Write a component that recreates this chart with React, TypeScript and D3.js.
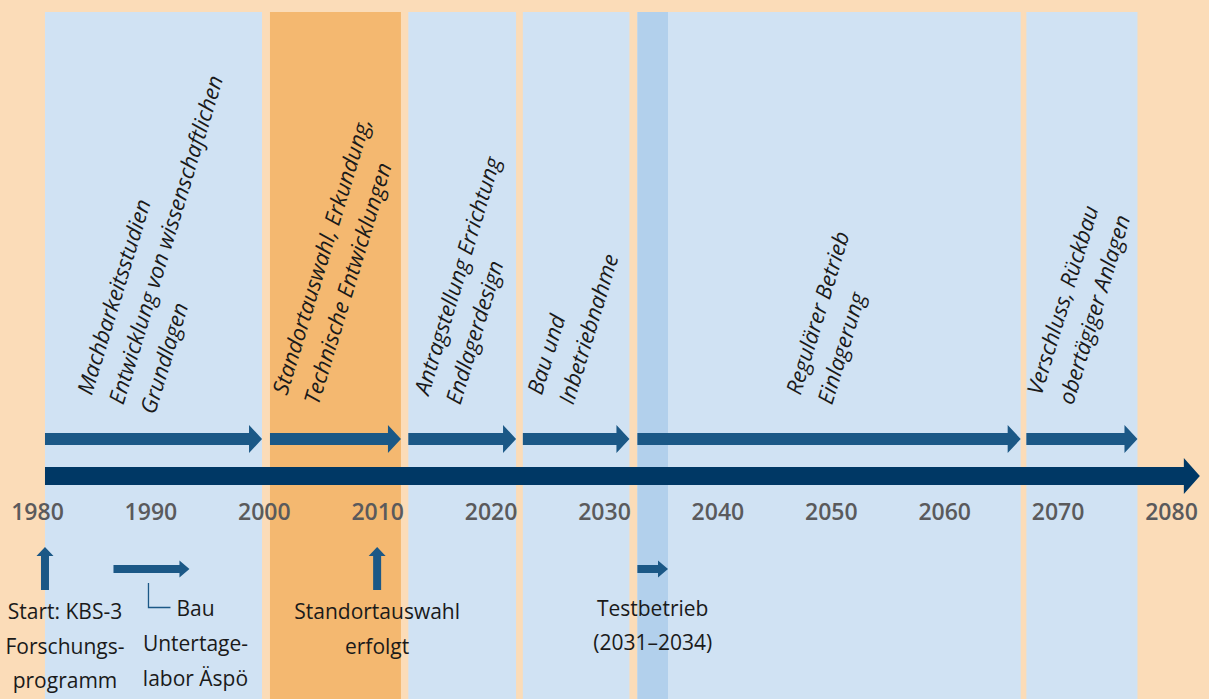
import React, { useEffect, useRef } from 'react';
import * as d3 from 'd3';

// timeline data (years)
const tickYears = [1980, 1990, 2000, 2010, 2020, 2030, 2040, 2050, 2060, 2070, 2080];

const phaseStart = [1980.66, 2000.5, 2012.7, 2022.8, 2032.9, 2067.2];
const phaseEnd = [1999.8, 2012.05, 2022.2, 2032.2, 2066.7, 2077.0];
const phaseHighlight = [false, true, false, false, false, false];
const phaseLabels = [
  ['Machbarkeitsstudien', 'Entwicklung von wissenschaftlichen', 'Grundlagen'],
  ['Standortauswahl, Erkundung,', 'Technische Entwicklungen'],
  ['Antragstellung Errichtung', 'Endlagerdesign'],
  ['Bau und', 'Inbetriebnahme'],
  ['Regulärer Betrieb', 'Einlagerung'],
  ['Verschluss, Rückbau', 'obertägiger Anlagen'],
];

const timelineStart = 1980.66;
const timelineEnd = 2082.5;

const milestoneYears = [1980.66, 2009.95];
const milestoneLabels = [
  ['Start: KBS-3', 'Forschungs-', 'programm'],
  ['Standortauswahl', 'erfolgt'],
];

const aspoStart = 1986.7;
const aspoEnd = 1993.4;
const aspoLabels = ['Bau', 'Untertage-', 'labor Äspö'];

const testStart = 2032.9;
const testEnd = 2035.6;
const testLabels = ['Testbetrieb', '(2031–2034)'];

const W = 1209;
const H = 699;
const FONT = "'Open Sans', sans-serif";

function rightArrow(x0: number, x1: number, cy: number, shaft: number, headH: number, headL: number) {
  const hb = x1 - headL;
  return `M${x0},${cy - shaft / 2}L${hb},${cy - shaft / 2}L${hb},${cy - headH / 2}L${x1},${cy}` +
    `L${hb},${cy + headH / 2}L${hb},${cy + shaft / 2}L${x0},${cy + shaft / 2}Z`;
}

function upArrow(cx: number, yBottom: number, yTip: number, shaft: number, headW: number, headL: number) {
  const hb = yTip + headL;
  return `M${cx - shaft / 2},${yBottom}L${cx - shaft / 2},${hb}L${cx - headW / 2},${hb}L${cx},${yTip}` +
    `L${cx + headW / 2},${hb}L${cx + shaft / 2},${hb}L${cx + shaft / 2},${yBottom}Z`;
}

export default function App() {
  const ref = useRef<SVGSVGElement>(null);

  useEffect(() => {
    const svg = d3.select(ref.current);
    svg.selectAll('*').remove();

    const x = d3.scaleLinear().domain([1980, 2080]).range([37.5, 1171.5]);

    svg.append('rect').attr('width', W).attr('height', H).attr('fill', '#fbdcb8');

    // phase bands
    svg.selectAll('rect.band')
      .data(phaseStart)
      .enter()
      .append('rect')
      .attr('class', 'band')
      .attr('x', d => x(d))
      .attr('y', 12)
      .attr('width', (d, i) => x(phaseEnd[i]) - x(d))
      .attr('height', H - 12)
      .attr('fill', (d, i) => phaseHighlight[i] ? '#f4b870' : '#d0e2f3');

    svg.append('rect')
      .attr('x', x(testStart))
      .attr('y', 12)
      .attr('width', x(testEnd) - x(testStart))
      .attr('height', H - 12)
      .attr('fill', '#b2d0ec');

    // phase arrows
    svg.selectAll('path.phase')
      .data(phaseStart)
      .enter()
      .append('path')
      .attr('class', 'phase')
      .attr('d', (d, i) => rightArrow(x(d), x(phaseEnd[i]), 439, 12, 28, 13))
      .attr('fill', '#1b5886');

    // main timeline
    svg.append('path')
      .attr('d', rightArrow(x(timelineStart), x(timelineEnd), 476, 18, 36, 16))
      .attr('fill', '#003865');

    // year labels
    svg.selectAll('text.tick')
      .data(tickYears)
      .enter()
      .append('text')
      .attr('class', 'tick')
      .attr('x', d => x(d))
      .attr('y', 520)
      .attr('text-anchor', 'middle')
      .attr('font-family', FONT)
      .attr('font-size', 23)
      .attr('font-weight', 600)
      .attr('fill', '#5a5a5c')
      .text(d => d);

    // rotated phase labels, centred in their band
    const angle = 73;
    const lh = 33;
    const sin = Math.sin(angle * Math.PI / 180);
    const cos = Math.cos(angle * Math.PI / 180);
    phaseLabels.forEach((lines, i) => {
      const g = svg.append('g');
      const t = g.append('text')
        .attr('font-family', FONT)
        .attr('font-size', 22)
        .attr('font-style', 'italic')
        .attr('fill', '#1a1a1a');
      const widths: number[] = [];
      lines.forEach((line, j) => {
        const ts = t.append('tspan').attr('x', 0).attr('y', j * lh).text(line);
        widths.push((ts.node() as SVGTSpanElement).getComputedTextLength());
      });
      t.attr('transform', `rotate(${-angle})`);
      const xmax = d3.max(widths, (w, j) => j * lh * sin + w * cos) || 0;
      const cx = (x(phaseStart[i]) + x(phaseEnd[i])) / 2;
      g.attr('transform', `translate(${cx - xmax / 2 + 4},396)`);
    });

    // bottom annotations
    const blue = '#1b5886';
    milestoneYears.forEach(y => {
      svg.append('path').attr('d', upArrow(x(y), 590, 547, 8, 17, 9)).attr('fill', blue);
    });
    svg.append('path').attr('d', rightArrow(x(aspoStart), x(aspoEnd), 569, 8, 17, 10)).attr('fill', blue);
    svg.append('path').attr('d', rightArrow(x(testStart), x(testEnd), 569, 8, 17, 10)).attr('fill', blue);

    const connX = x(aspoStart) + 35;
    svg.append('path')
      .attr('d', `M${connX},583V607.5H${connX + 22}`)
      .attr('fill', 'none')
      .attr('stroke', blue)
      .attr('stroke-width', 1.3);

    const addLines = (lines: string[], cx: number, y0: number, step: number) => {
      const t = svg.append('text')
        .attr('font-family', FONT)
        .attr('font-size', 21)
        .attr('text-anchor', 'middle')
        .attr('fill', '#1a1a1a');
      lines.forEach((line, j) => {
        t.append('tspan').attr('x', cx).attr('y', y0 + j * step).text(line);
      });
    };

    addLines(milestoneLabels[0], x(milestoneYears[0]) + 20, 619, 34.5);
    addLines(milestoneLabels[1], x(milestoneYears[1]), 619, 34.5);
    addLines(aspoLabels, x(aspoStart) + 82, 616, 35);
    addLines(testLabels, (x(testStart) + x(testEnd)) / 2, 616, 34);
  }, []);

  return (
    <svg
      ref={ref}
      width={W}
      height={H}
      style={{ position: 'absolute', left: 0, top: 0, display: 'block' }}
    />
  );
}
